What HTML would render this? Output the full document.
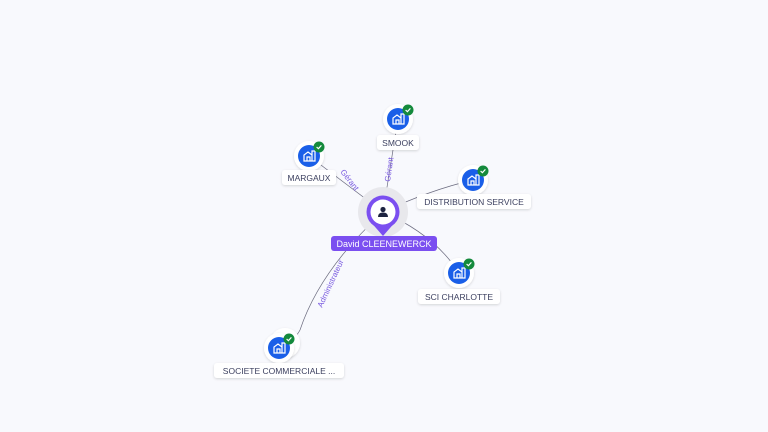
<!DOCTYPE html>
<html><head><meta charset="utf-8"><style>
html,body{margin:0;padding:0;background:#f8f9fd;width:768px;height:432px;overflow:hidden}
svg{display:block}
text{font-family:"Liberation Sans",sans-serif}
</style></head><body>
<svg width="768" height="432" viewBox="0 0 768 432" xmlns="http://www.w3.org/2000/svg">
<defs>
<filter id="sh" x="-30%" y="-30%" width="160%" height="160%"><feDropShadow dx="0" dy="1" stdDeviation="1.2" flood-color="#000" flood-opacity="0.15"/></filter>
<g id="co">
<circle r="15" fill="#fff" filter="url(#sh)"/>
<circle r="11" fill="#1a5fe8"/>
<path d="M-5 5 V-1 L-1 -4 L3 -1 V5 Z M-2 5 V1 H1 V5 M3 -1 V-5 H6 V5 H-5" fill="none" stroke="#fff" stroke-width="1.2"/>
<circle cx="10" cy="-9" r="5.5" fill="#148a3c"/>
<path d="M7.6 -9 L9.4 -7.3 L12.4 -10.6" fill="none" stroke="#fff" stroke-width="1.2"/>
</g>
</defs>
<g stroke="#6a6a7e" stroke-width="0.7" fill="none">
<path d="M383 212 L398 119"/>
<path d="M383 212 L309 156"/>
<path d="M383 212 Q430 190 473 180"/>
<path d="M383 212 Q435 235 459 273"/>
<path d="M383 212 Q320 270 300 330 Q295 340 279 348"/>
</g>
<g font-size="8" fill="#7b5ce0">
<text transform="translate(390,182) rotate(-82)">Gérant</text>
<text transform="translate(340,172) rotate(52)">Gérant</text>
<text transform="translate(322,308) rotate(-65)">Administrateur</text>
</g>
<circle cx="383" cy="212" r="25" fill="#e8e8ec"/>
<path d="M369 220 L383 236 L397 220 Z" fill="#7b4ff0"/>
<circle cx="383" cy="212" r="16.5" fill="#7b4ff0"/>
<circle cx="383" cy="212" r="12.5" fill="#fff"/>
<circle cx="383" cy="209.5" r="2.6" fill="#1d2340"/>
<path d="M378 217 Q378 212.5 383 212.5 Q388 212.5 388 217 Z" fill="#1d2340"/>
<rect x="331" y="236" width="106" height="15" rx="3" fill="#7b4ff0"/>
<text x="384" y="247" font-size="9" fill="#fff" text-anchor="middle">David CLEENEWERCK</text>
<use href="#co" x="398" y="119"/>
<use href="#co" x="309" y="156"/>
<use href="#co" x="473" y="180"/>
<use href="#co" x="459" y="273"/>
<circle cx="285" cy="343" r="15" fill="#fff" filter="url(#sh)"/>
<use href="#co" x="279" y="348"/>
<g font-size="8.5" fill="#3d4160" text-anchor="middle">
<rect x="377" y="135" width="42" height="15" rx="3" fill="#fff" filter="url(#sh)"/>
<text x="398" y="146">SMOOK</text>
<rect x="282" y="170" width="54" height="15" rx="3" fill="#fff" filter="url(#sh)"/>
<text x="309" y="181">MARGAUX</text>
<rect x="417" y="194" width="114" height="15" rx="3" fill="#fff" filter="url(#sh)"/>
<text x="474" y="205">DISTRIBUTION SERVICE</text>
<rect x="418" y="289" width="82" height="15" rx="3" fill="#fff" filter="url(#sh)"/>
<text x="459" y="300">SCI CHARLOTTE</text>
<rect x="214" y="363" width="130" height="15" rx="3" fill="#fff" filter="url(#sh)"/>
<text x="279" y="374">SOCIETE COMMERCIALE ...</text>
</g>
</svg>
</body></html>
